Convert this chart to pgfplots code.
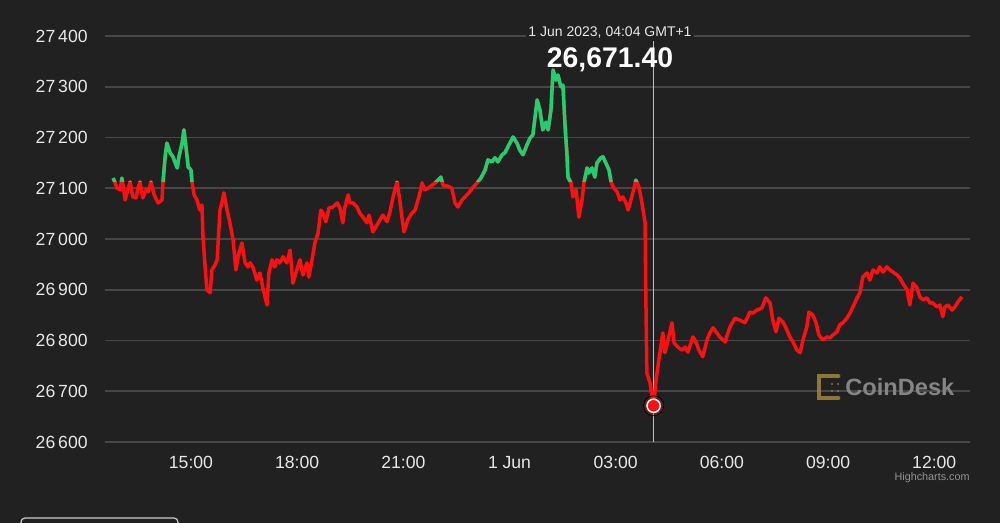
\documentclass[border=0pt]{standalone}
\usepackage{pgfplots}
\pgfplotsset{compat=1.18}
\usepackage{pgfplotstable}
\usepackage{fontspec}
\setmainfont{Liberation Sans}

\definecolor{bg}{HTML}{212121}
\definecolor{gridc}{HTML}{474747}
\definecolor{upc}{HTML}{1FD16E}
\definecolor{downc}{HTML}{FF1010}
\definecolor{lbl}{HTML}{E8E8E8}
\definecolor{gold}{HTML}{A38638}

% BTC price, hours since 31 May 00:00 (GMT+1)
\pgfplotstableread{
h price
12.80 27120
12.85 27112
12.91 27100
13.00 27097
13.05 27120
13.14 27077
13.19 27091
13.28 27112
13.36 27083
13.45 27081
13.50 27100
13.56 27112
13.64 27081
13.73 27097
13.79 27093
13.87 27112
13.96 27087
14.07 27071
14.18 27077
14.21 27112
14.27 27162
14.32 27189
14.41 27170
14.49 27162
14.61 27140
14.66 27162
14.75 27189
14.80 27215
14.86 27181
14.92 27142
15.00 27136
15.03 27112
15.09 27087
15.17 27077
15.25 27057
15.31 27067
15.34 27004
15.40 26945
15.45 26900
15.54 26894
15.59 26939
15.68 26949
15.74 26959
15.82 27057
15.88 27073
15.93 27091
16.02 27057
16.10 27032
16.19 26998
16.27 26939
16.33 26965
16.44 26992
16.53 26953
16.61 26945
16.67 26953
16.75 26945
16.86 26919
16.95 26933
17.03 26904
17.15 26870
17.20 26933
17.29 26959
17.37 26945
17.43 26959
17.51 26953
17.60 26965
17.71 26953
17.80 26978
17.88 26913
17.99 26939
18.08 26959
18.16 26929
18.28 26953
18.33 26925
18.42 26959
18.50 26992
18.59 27012
18.67 27057
18.73 27051
18.81 27034
18.90 27061
19.01 27063
19.13 27071
19.21 27061
19.29 27032
19.35 27063
19.44 27087
19.49 27071
19.58 27071
19.69 27063
19.77 27051
19.86 27043
19.97 27032
20.03 27047
20.14 27014
20.26 27028
20.34 27038
20.42 27047
20.54 27034
20.62 27053
20.71 27083
20.82 27112
20.90 27077
20.96 27043
21.02 27014
21.13 27038
21.24 27051
21.33 27057
21.44 27083
21.53 27110
21.61 27097
21.70 27100
21.81 27106
21.89 27110
21.98 27116
22.06 27122
22.12 27106
22.26 27104
22.37 27100
22.46 27071
22.54 27063
22.66 27077
22.74 27083
22.85 27091
22.97 27102
23.08 27110
23.19 27120
23.31 27136
23.39 27156
23.50 27152
23.59 27160
23.67 27152
23.79 27166
23.87 27170
24.01 27189
24.10 27201
24.21 27189
24.29 27175
24.38 27166
24.49 27185
24.58 27199
24.66 27205
24.78 27274
24.86 27254
24.94 27215
25.03 27230
25.09 27215
25.17 27254
25.23 27333
25.31 27313
25.37 27323
25.45 27300
25.51 27303
25.57 27221
25.62 27170
25.65 27122
25.74 27110
25.79 27083
25.88 27097
25.96 27043
26.05 27077
26.10 27110
26.19 27140
26.24 27130
26.33 27140
26.41 27122
26.47 27150
26.58 27160
26.64 27162
26.72 27150
26.81 27136
26.87 27112
26.95 27100
27.04 27093
27.12 27077
27.20 27083
27.29 27071
27.35 27057
27.43 27077
27.49 27093
27.57 27116
27.66 27102
27.74 27071
27.83 27032
27.85 26894
27.88 26736
27.97 26716
28.07 26671.4
28.14 26722
28.22 26762
28.33 26815
28.39 26776
28.48 26801
28.59 26835
28.65 26795
28.76 26787
28.87 26781
28.96 26787
29.04 26777
29.18 26807
29.27 26797
29.35 26781
29.46 26768
29.58 26801
29.66 26815
29.75 26825
29.86 26815
29.94 26807
30.09 26797
30.23 26827
30.37 26844
30.51 26840
30.65 26835
30.79 26856
30.88 26854
30.99 26860
31.13 26864
31.24 26884
31.36 26874
31.44 26840
31.53 26817
31.61 26844
31.72 26837
31.81 26825
31.92 26807
32.01 26797
32.12 26781
32.21 26776
32.29 26801
32.40 26827
32.46 26856
32.57 26850
32.66 26835
32.74 26811
32.85 26801
32.97 26807
33.05 26805
33.14 26811
33.25 26817
33.33 26831
33.42 26835
33.53 26844
33.62 26854
33.70 26866
33.82 26884
33.90 26894
33.98 26925
34.10 26933
34.18 26919
34.27 26939
34.38 26933
34.46 26945
34.55 26935
34.66 26945
34.75 26939
34.83 26935
34.95 26929
35.03 26923
35.11 26913
35.23 26900
35.31 26870
35.40 26913
35.51 26904
35.59 26886
35.68 26880
35.79 26884
35.88 26874
35.96 26874
36.08 26866
36.16 26870
36.24 26847
36.30 26866
36.39 26870
36.50 26860
36.58 26866
36.67 26876
36.78 26886
}\btc

\begin{document}
\begin{tikzpicture}
\fill[bg] (0,0) rectangle (500pt,261.5pt);
\useasboundingbox (0,0) rectangle (500pt,261.5pt);
\begin{axis}[
  at={(52.5pt,40.5pt)}, anchor=south west,
  scale only axis, width=432.5pt, height=203pt,
  xmin=12.571, xmax=37.01, ymin=26600, ymax=27400,
  axis line style={draw=none},
  major tick length=0pt,
  scaled y ticks=false, scaled x ticks=false,
  ymajorgrids, grid style={gridc, line width=0.8pt},
  ytick={26600,26700,26800,26900,27000,27100,27200,27300,27400},
  yticklabels={26\,600,26\,700,26\,800,26\,900,27\,000,27\,100,27\,200,27\,300,27\,400},
  xtick={15,18,21,24,27,30,33,36},
  xticklabels={15:00,18:00,21:00,1 Jun,03:00,06:00,09:00,12:00},
  tick label style={lbl, font=\fontsize{8.8}{10}\selectfont, inner sep=0pt},
  yticklabel style={anchor=east, xshift=-8.5pt},
  xticklabel style={anchor=north, yshift=-7pt},
  clip=false,
]
% crosshair
\draw[white!75!black, line width=0.6pt] (axis cs:28.07,26600) -- (axis cs:28.07,27403);
% red below opening level, green above it
\addplot[downc, line width=1.75pt, line join=round] table[x=h, y=price] {\btc};
\begin{scope}
  \clip (axis cs:12,27113) rectangle (axis cs:38,27500);
  \addplot[upc, line width=1.75pt, line join=round] table[x=h, y=price] {\btc};
\end{scope}
% hovered low point
\addplot[only marks, mark=*, mark size=5pt, mark options={draw=none, fill=downc, fill opacity=0.3}] coordinates {(28.07,26671.4)};
\addplot[only marks, mark=*, mark size=3.3pt, mark options={draw=white, fill=downc, line width=0.75pt}] coordinates {(28.07,26671.4)};
\end{axis}

% texts and watermark, in pixel units of the reference
\begin{scope}[x=0.5pt, y=-0.5pt, yshift=261.5pt]
  \node[fill=bg, inner sep=1pt, text=lbl, font=\fontsize{7}{8}\selectfont] at (610,33) {1 Jun 2023, 04:04 GMT+1};
  \node[inner sep=0pt, text=white, font=\fontsize{14.2}{16}\selectfont\bfseries] at (610,60) {26,671.40};
  % CoinDesk mark
  \draw[gold, line width=2.4pt, line cap=round, opacity=0.85] (838,376) -- (819,376) -- (819,398) -- (838,398);
  \foreach \cx/\cy in {832/384, 838/384, 832/391, 838/391}
    \fill[gold, opacity=0.85] (\cx,\cy) circle (1.1);
  \node[anchor=west, inner sep=0pt, text=white!52!black, font=\fontsize{11.8}{13}\selectfont\bfseries] at (845,387) {CoinDesk};
  \node[anchor=east, inner sep=0pt, text=white!58!black, font=\fontsize{5.4}{6}\selectfont] at (970,478) {Highcharts.com};
  % cut-off button at the bottom
  \draw[white!80!black, line width=0.6pt, rounded corners=2pt] (21,540) -- (21,518) -- (178,518) -- (178,540);
\end{scope}
\end{tikzpicture}
\end{document}
